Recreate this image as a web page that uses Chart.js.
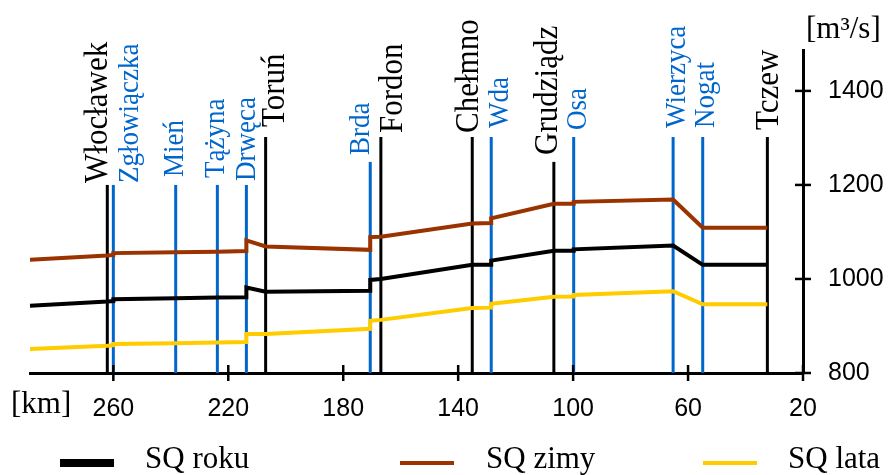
<!DOCTYPE html>
<html>
<head>
<meta charset="utf-8">
<script src="https://cdn.jsdelivr.net/npm/chart.js@4/dist/chart.umd.min.js"></script>
<style>
  html, body { margin: 0; padding: 0; background: #fff; }
  canvas { display: block; }
</style>
</head>
<body>
<canvas id="chart" width="889" height="475"></canvas>
<script>
// river km along the Vistula (duplicated km = jump at a tributary)
const km = [289, 262.1, 260, 260, 238.3, 223.8, 213.7, 213.7, 207, 170.6, 170.6, 166.9,
  135.1, 128.5, 128.5, 106.7, 99.8, 99.8, 65.2, 54.9, 32.4];
const sqRoku = [943, 952, 953, 957, 959, 960.5, 961, 982, 973, 975, 998, 1000,
  1030, 1030, 1039, 1060, 1060, 1063, 1071, 1030, 1030];
const sqZimy = [1041, 1050, 1051, 1055, 1057, 1058, 1059.5, 1082, 1069, 1062, 1089, 1090,
  1118, 1119, 1129, 1160, 1160, 1164, 1169, 1109, 1109];
const sqLata = [851, 858, 859, 861.5, 863.5, 865, 866, 883, 883, 894, 911, 913,
  938, 939, 947, 962, 962.5, 966, 974, 946, 946];

// cities (black) and tributaries (blue)
const places = ['Włocławek', 'Zgłowiączka', 'Mień', 'Tążyna', 'Drwęca', 'Toruń', 'Brda', 'Fordon',
  'Chełmno', 'Wda', 'Grudziądz', 'Osa', 'Wierzyca', 'Nogat', 'Tczew'];
const placeKm = [262.1, 260, 238.3, 223.8, 213.7, 207, 170.6, 166.9, 135.1, 128.5, 106.7, 99.8, 65.2, 54.9, 32.4];
const placeTop = [1200, 1200, 1200, 1200, 1200, 1302, 1249, 1302, 1302, 1302, 1249, 1302, 1302, 1302, 1302];
const placeIsRiver = [false, true, true, true, true, false, true, false, false, true, false, true, true, true, false];

const xTicks = [260, 220, 180, 140, 100, 60, 20];
const yTicks = [800, 1000, 1200, 1400];

// label nudges in px (text centre vs line, gap above line top)
const labelDx = [-9, 17, -1, -1, 1, 9, -9, 12, -3, 9, -6, 4.5, 3.5, 3.5, 2];
const labelGap = [2, 2, 8, 7, 4, 10, 7, 4, 4, 9, 7, 7, 9, 9, 7];

const BLUE = '#0066cc';
const BROWN = '#9a3300';
const YELLOW = '#ffcc00';

const pts = vals => vals.map((v, i) => ({ x: km[i], y: v }));

const datasets = [
  { label: 'SQ roku', data: pts(sqRoku), borderColor: '#000', borderWidth: 4, legendWidth: 8 },
  { label: 'SQ zimy', data: pts(sqZimy), borderColor: BROWN, borderWidth: 4, legendWidth: 4 },
  { label: 'SQ lata', data: pts(sqLata), borderColor: YELLOW, borderWidth: 4, legendWidth: 4 },
].map(d => Object.assign(d, { pointRadius: 0, tension: 0, fill: false, isSeries: true }));

places.forEach((name, i) => {
  datasets.push({
    label: name,
    data: [{ x: placeKm[i], y: 800 }, { x: placeKm[i], y: placeTop[i] }],
    borderColor: placeIsRiver[i] ? BLUE : '#000',
    borderWidth: 3,
    pointRadius: 0,
  });
});

const extras = {
  id: 'extras',
  afterDraw(chart) {
    const { ctx, scales: { x, y }, chartArea } = chart;
    ctx.save();
    // crossing tick marks
    ctx.strokeStyle = '#000';
    ctx.lineWidth = 2.5;
    xTicks.forEach(t => {
      const px = x.getPixelForValue(t);
      ctx.beginPath();
      ctx.moveTo(px, chartArea.bottom - 8);
      ctx.lineTo(px, chartArea.bottom + 8);
      ctx.stroke();
    });
    yTicks.forEach(t => {
      const py = y.getPixelForValue(t);
      ctx.beginPath();
      ctx.moveTo(chartArea.right - 8, py);
      ctx.lineTo(chartArea.right + 8, py);
      ctx.stroke();
    });

    // rotated place labels
    places.forEach((name, i) => {
      const px = x.getPixelForValue(placeKm[i]);
      const py = y.getPixelForValue(placeTop[i]);
      ctx.save();
      ctx.translate(px + labelDx[i], py - labelGap[i]);
      ctx.rotate(-Math.PI / 2);
      ctx.scale(1, 1.12);
      ctx.fillStyle = placeIsRiver[i] ? BLUE : '#000';
      ctx.font = (placeIsRiver[i] ? '27px' : '31px') + ' "Liberation Serif", serif';
      ctx.textAlign = 'left';
      ctx.textBaseline = 'middle';
      ctx.fillText(name, 0, 0);
      ctx.restore();
    });

    // unit labels
    ctx.fillStyle = '#000';
    ctx.font = '31px "Liberation Serif", serif';
    ctx.textAlign = 'left';
    ctx.textBaseline = 'alphabetic';
    ctx.fillText('[km]', 11, 413);
    ctx.fillText('[m³/s]', 806, 38);

    // legend
    const legendX = [[60, 145], [400, 486], [703, 788]];
    chart.data.datasets.filter(d => d.isSeries).forEach((d, i) => {
      ctx.strokeStyle = d.borderColor;
      ctx.lineWidth = d.legendWidth;
      ctx.beginPath();
      ctx.moveTo(legendX[i][0], 463);
      ctx.lineTo(legendX[i][0] + 54, 463);
      ctx.stroke();
      ctx.fillText(d.label, legendX[i][1], 468);
    });
    ctx.restore();
  }
};

new Chart(document.getElementById('chart'), {
  type: 'line',
  data: { datasets },
  plugins: [extras],
  options: {
    responsive: false,
    animation: false,
    devicePixelRatio: 1,
    layout: { padding: { left: 30, top: 50, right: 0, bottom: 0 } },
    plugins: {
      legend: { display: false },
      tooltip: { enabled: false },
    },
    scales: {
      x: {
        type: 'linear',
        reverse: true,
        min: 20,
        max: 289,
        afterBuildTicks: s => { s.ticks = xTicks.map(v => ({ value: v })); },
        afterFit: s => { s.height = 102; },
        grid: { display: false },
        border: { display: true, color: '#000', width: 3 },
        ticks: {
          padding: 13,
          color: '#000',
          font: { family: '"Liberation Sans", Arial, sans-serif', size: 25 },
          maxRotation: 0,
          callback: v => String(v),
        },
      },
      y: {
        type: 'linear',
        position: 'right',
        min: 800,
        max: 1487,
        afterBuildTicks: s => { s.ticks = yTicks.map(v => ({ value: v })); },
        afterFit: s => { s.width = 86; },
        grid: { display: false },
        border: { display: true, color: '#000', width: 3 },
        ticks: {
          padding: 17,
          color: '#000',
          font: { family: '"Liberation Sans", Arial, sans-serif', size: 25 },
          callback: v => String(v),
        },
      },
    },
  },
});
</script>
</body>
</html>
